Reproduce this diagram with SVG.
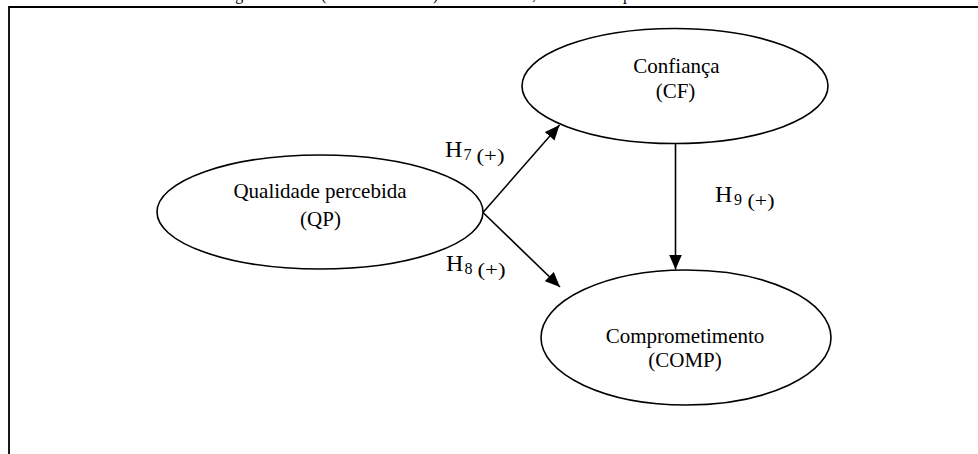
<svg xmlns="http://www.w3.org/2000/svg" width="978" height="454" viewBox="0 0 978 454">
  <style>
    .node ellipse { fill: #fff; stroke: #000; stroke-width: 1.6; }
    .lbl { font-family: "Liberation Serif", "Times New Roman", serif; font-size: 21px; fill: #000; text-anchor: middle; }
    .hyp { font-family: "Liberation Serif", "Times New Roman", serif; fill: #000; }
    .edge { stroke: #000; stroke-width: 1.6; fill: none; marker-end: url(#arrow); }
    .frame { stroke: #000; stroke-width: 1.8; fill: none; }
  </style>
  <defs>
    <marker id="arrow" markerUnits="userSpaceOnUse" markerWidth="15" markerHeight="13" refX="15" refY="6.5" orient="auto">
      <path d="M0,0 L15,6.5 L0,13 z" fill="#000"/>
    </marker>
  </defs>
  <rect width="978" height="454" fill="#fff"/>

  <!-- caption running off the top edge -->
  <text class="hyp" font-size="16" y="-0.5"><tspan x="222">Figura</tspan><tspan x="321">(</tspan><tspan x="433">)</tspan><tspan x="532">,</tspan><tspan x="623">p</tspan></text>

  <!-- frame -->
  <path class="frame" d="M9,454 L9,7 L978,7"/>

  <!-- connectors -->
  <g id="connectors">
    <line class="edge" x1="483" y1="212.5" x2="559.5" y2="125"/>
    <line class="edge" x1="483" y1="212.5" x2="560" y2="287"/>
    <line class="edge" x1="675.5" y1="143.5" x2="675.5" y2="269.5"/>
    <text class="hyp" font-size="24" y="156.5"><tspan x="445">H</tspan><tspan font-size="16" x="463.5" y="159.5">7</tspan><tspan font-size="18" x="476.5" y="162" textLength="28" lengthAdjust="spacingAndGlyphs">(+)</tspan></text>
    <text class="hyp" font-size="24" y="270.5"><tspan x="446">H</tspan><tspan font-size="16" x="464.5" y="273.5">8</tspan><tspan font-size="18" x="477.5" y="276" textLength="28" lengthAdjust="spacingAndGlyphs">(+)</tspan></text>
    <text class="hyp" font-size="24" y="201.5"><tspan x="715">H</tspan><tspan font-size="16" x="734" y="204.5">9</tspan><tspan font-size="18" x="747.5" y="207" textLength="27" lengthAdjust="spacingAndGlyphs">(+)</tspan></text>
  </g>

  <!-- nodes -->
  <g id="qp" class="node">
    <ellipse cx="320" cy="212" rx="163" ry="57"/>
    <text class="lbl" x="320" y="198">Qualidade percebida</text>
    <text class="lbl" x="320.5" y="226">(QP)</text>
  </g>
  <g id="cf" class="node">
    <ellipse cx="675" cy="86" rx="153" ry="57.5"/>
    <text class="lbl" x="676.5" y="72.5">Confiança</text>
    <text class="lbl" x="675.5" y="98">(CF)</text>
  </g>
  <g id="comp" class="node">
    <ellipse cx="686" cy="337.5" rx="145" ry="67.5"/>
    <text class="lbl" x="685" y="343">Comprometimento</text>
    <text class="lbl" x="685" y="367">(COMP)</text>
  </g>
</svg>
